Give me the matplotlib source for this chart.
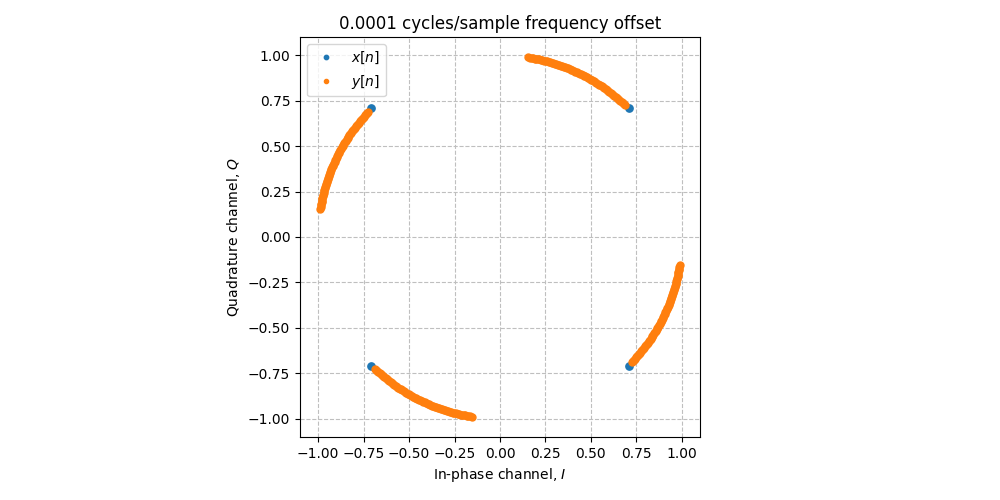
import numpy as np
import matplotlib
matplotlib.use("Agg")
import matplotlib.pyplot as plt

# QPSK constellation symbols x[n] (I, Q)
symbol_i = [0.7071, -0.7071, -0.7071, 0.7071]
symbol_q = [0.7071, 0.7071, -0.7071, -0.7071]

# phase rotation (degrees) accumulated by the frequency offset, read along each arc
rotation_deg = [1.5, 2.0, 2.5, 3.0, 3.5, 4.0, 4.5, 5.0, 5.5, 6.0, 6.5, 7.0,
                7.5, 8.0, 8.5, 9.0, 9.5, 10.0, 10.5, 11.0, 11.5, 12.0, 12.5, 13.0,
                13.5, 14.0, 14.5, 15.0, 15.5, 16.0, 16.5, 17.0, 17.5, 18.0, 18.5,
                19.0, 19.5, 20.0, 20.5, 21.0, 21.5, 22.0, 22.5, 23.0, 23.5, 24.0,
                24.5, 25.0, 25.5, 26.0, 26.5, 27.0, 27.5, 28.0, 28.5, 29.0, 29.5,
                30.0, 30.5, 31.0, 31.5, 32.0, 32.5, 33.0, 33.5, 34.0, 34.5, 35.0,
                35.5, 36.0]

x_sym = np.array(symbol_i) + 1j * np.array(symbol_q)
rot = np.exp(1j * np.deg2rad(np.array(rotation_deg)))
y_sym = (x_sym[:, None] * rot[None, :]).ravel()

fig = plt.figure(figsize=(10, 5), dpi=100)
ax = fig.add_axes([0.3, 0.126, 0.4, 0.8])
ax.plot(x_sym.real, x_sym.imag, '.', ms=10.5, color='#1f77b4', label='$x[n]$')
ax.plot(y_sym.real, y_sym.imag, '.', ms=10, color='#ff7f0e', label='$y[n]$')
ax.set_xlim(-1.1, 1.1)
ax.set_ylim(-1.1, 1.1)
ax.set_aspect('equal')
ax.grid(True, linestyle='--', color='#bfbfbf')
ax.set_axisbelow(True)
ax.set_xticks([-1.0, -0.75, -0.5, -0.25, 0.0, 0.25, 0.5, 0.75, 1.0])
ax.set_yticks([-1.0, -0.75, -0.5, -0.25, 0.0, 0.25, 0.5, 0.75, 1.0])
ax.set_xlabel('In-phase channel, $I$')
ax.set_ylabel('Quadrature channel, $Q$')
ax.set_title('0.0001 cycles/sample frequency offset')
ax.legend(loc='upper left', markerscale=0.6)
fig.savefig('out.png', dpi=100)
